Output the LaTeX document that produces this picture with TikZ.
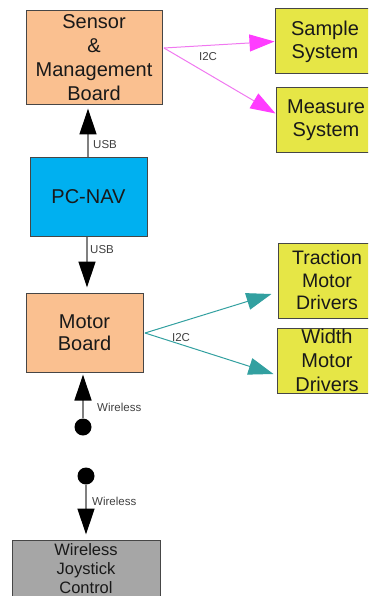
\documentclass[tikz,border=0pt]{standalone}
\usepackage{fontspec}
\setmainfont{Liberation Sans}
\usetikzlibrary{arrows.meta,positioning}
\definecolor{peach}{RGB}{250,192,144}
\definecolor{ylw}{RGB}{230,230,70}
\definecolor{cyn}{RGB}{0,176,240}
\definecolor{gry}{RGB}{166,166,166}
\definecolor{edge}{RGB}{70,70,70}
\definecolor{lnk}{RGB}{128,128,128}
\definecolor{pinkline}{RGB}{240,120,240}
\definecolor{pinkhead}{RGB}{255,60,255}
\definecolor{teal2}{RGB}{50,160,160}
\tikzset{
  box/.style={draw=edge, line width=1pt, rectangle, align=center, inner sep=0pt,
    font=\fontsize{20}{24}\selectfont, text=black!90},
  lbl/.style={font=\fontsize{11.5}{13}\selectfont, text=black!75, inner sep=0pt},
  blk/.style={draw=lnk, line width=1.3pt, -{Triangle[width=17pt,length=26pt,color=black]}},
  pnk/.style={draw=pinkline, line width=1pt, -{Triangle[width=17pt,length=25pt,color=pinkhead]}},
  tl/.style={draw=teal2, line width=1pt, -{Triangle[width=17pt,length=25pt,color=teal2]}},
  dotnode/.style={circle, fill=black, minimum size=17pt, inner sep=0pt},
}
\begin{document}
\begin{tikzpicture}[x=1pt,y=-1pt]
\useasboundingbox (0,0) rectangle (368,596);
\clip (0,0) rectangle (368,596);
\node[box, fill=peach, minimum width=136pt, minimum height=94pt] (sensor) at (94,58) {Sensor\\\&\\Management\\Board};
\node[box, fill=ylw, minimum width=100pt, minimum height=65pt, font=\fontsize{20}{23}\selectfont] (sample) at (325,41.5) {Sample\\System};
\node[box, fill=ylw, minimum width=100pt, minimum height=65pt, font=\fontsize{20}{23}\selectfont] (measure) at (326,120.5) {Measure\\System};
\node[box, fill=cyn, minimum width=117pt, minimum height=78pt] (pcnav) at (88.5,197) {PC-NAV};
\node[box, fill=peach, minimum width=117pt, minimum height=79pt, font=\fontsize{20}{22}\selectfont] (motor) at (84.5,332.5) {Motor\\Board};
\node[box, fill=ylw, minimum width=98pt, minimum height=75pt, font=\fontsize{19.5}{22.5}\selectfont] (traction) at (327,280.5) {Traction\\Motor\\Drivers};
\node[box, fill=ylw, minimum width=100pt, minimum height=65pt, font=\fontsize{20}{24}\selectfont] (width) at (327,360.5) {Width\\Motor\\Drivers};
\node[box, fill=gry, minimum width=148pt, minimum height=58pt, font=\fontsize{16.5}{19}\selectfont] (joy) at (86,569) {Wireless\\Joystick\\Control};

\node[dotnode] (dota) at (83,427) {};
\node[dotnode] (dotb) at (86,476) {};

\coordinate (pinksrc) at (164,48);
\coordinate (tealsrc) at (145,333);

% USB links
\draw[blk, shorten >=3pt] (pcnav.north -| 88,0) -- (sensor.south -| 88,0);
\node[lbl, anchor=west] (usba) at (93,145) {USB};
\draw[blk, shorten >=5pt] (pcnav.south -| 87,0) -- (motor.north -| 87,0);
\node[lbl, anchor=west] (usbb) at (90,250) {USB};

% I2C pink
\draw[pnk] (pinksrc) -- (sample.west);
\draw[pnk] (pinksrc) -- ([yshift=7pt]measure.west);
\node[lbl] (i2ca) at (208,57) {I2C};

% I2C teal
\draw[tl] (tealsrc) -- ([xshift=-6pt,yshift=-13.5pt]traction.west);
\draw[tl] (tealsrc) -- ([xshift=-3pt,yshift=-13.5pt]width.west);
\node[lbl] (i2cb) at (181,338) {I2C};

% Wireless
\draw[blk, shorten >=2pt] (dota) -- (dota |- motor.south);
\node[lbl, anchor=west] (wla) at (97,407) {Wireless};
\draw[blk, shorten >=5pt] (dotb) -- (dotb |- joy.north);
\node[lbl, anchor=west] (wlb) at (92,501) {Wireless};
\end{tikzpicture}
\end{document}
